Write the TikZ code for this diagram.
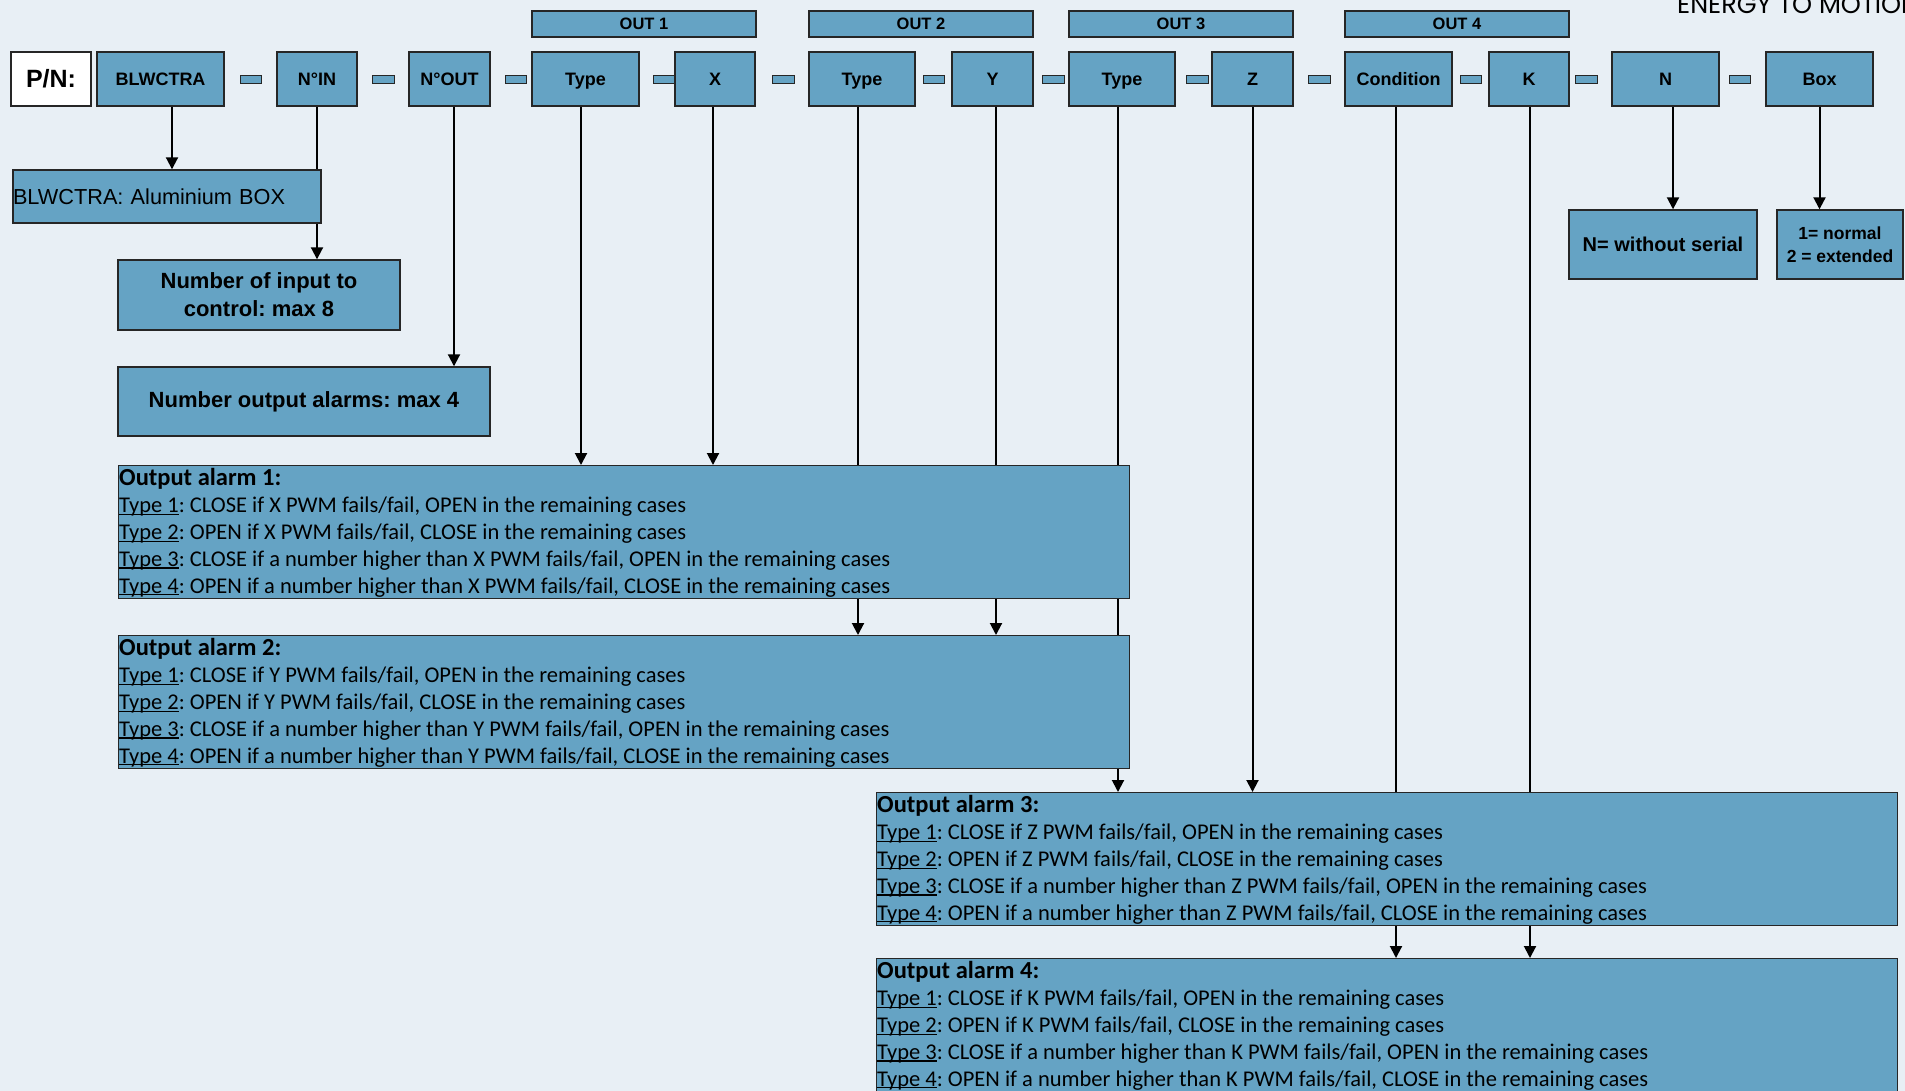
\documentclass[tikz,border=0pt]{standalone}
\usepackage{fontspec}
\setmainfont{Liberation Sans}
\newfontfamily\calfont{Carlito}
\newfontfamily\popfont{Poppins}
\usetikzlibrary{arrows.meta,calc}
\definecolor{bgc}{HTML}{E8EFF5}
\definecolor{boxc}{HTML}{65A3C4}
\definecolor{bordc}{HTML}{262626}
\pgfdeclarelayer{bgl}\pgfdeclarelayer{edges}
\pgfsetlayers{bgl,edges,main}
\newcommand\myul[1]{\setbox0\hbox{#1}\rlap{\rule[-2.4pt]{\wd0}{1.1pt}}\box0}
\newcommand\ty[1]{\myul{Type #1}}
\newcommand\atitle[1]{{\bfseries\fontsize{24.5}{26.9}\selectfont #1}}
\begin{document}
\frenchspacing
\begin{tikzpicture}[x=1pt,y=-1pt,
 blk/.style={draw=bordc, fill=boxc, line width=1.4pt, inner sep=0pt, align=center},
 toplbl/.style={blk, minimum height=54pt, text height=13pt, text depth=0pt, font=\bfseries\fontsize{18}{21}\selectfont},
 outlbl/.style={blk, minimum height=26pt, minimum width=224pt, text height=12pt, text depth=0pt, font=\bfseries\fontsize{16.5}{20}\selectfont},
 dashbox/.style={blk, minimum width=21.5pt, minimum height=8.5pt},
 conn/.style={draw=black, line width=2pt, -{Triangle[length=12pt,width=12pt]}},
 alarm/.style={blk, anchor=north west, minimum height=133pt},
 alarmtxt/.style={anchor=base west, inner sep=0pt, align=left, font=\calfont\fontsize{22.5}{26.9}\selectfont}
]
\begin{pgfonlayer}{bgl}
\fill[bgc] (0,0) rectangle (1905,1091);
\end{pgfonlayer}
\useasboundingbox (0,0) rectangle (1905,1091);

\node[anchor=base west, inner sep=0pt, font=\popfont\fontsize{25.5}{30}\selectfont] (brand) at (1677,13.3) {ENERGY TO MOTION};

% top row
\node[toplbl, fill=white, minimum width=80pt, text height=18pt, font=\bfseries\fontsize{25}{30}\selectfont] (pn) at (51,79) {P/N:};
\node[toplbl, minimum width=127pt] (blw) at (160.5,79) {BLWCTRA};
\node[toplbl, minimum width=80pt] (nin) at (317,79) {N°IN};
\node[toplbl, minimum width=81pt] (nout) at (449.5,79) {N°OUT};
\node[toplbl, minimum width=107pt] (t1) at (585.5,79) {Type};
\node[toplbl, minimum width=80pt] (nx) at (715,79) {X};
\node[toplbl, minimum width=106pt] (t2) at (862,79) {Type};
\node[toplbl, minimum width=81pt] (ny) at (992.5,79) {Y};
\node[toplbl, minimum width=106pt] (t3) at (1122,79) {Type};
\node[toplbl, minimum width=81pt] (nz) at (1252.5,79) {Z};
\node[toplbl, minimum width=107pt] (cond) at (1398.5,79) {Condition};
\node[toplbl, minimum width=80pt] (nk) at (1529,79) {K};
\node[toplbl, minimum width=107pt] (nn) at (1665.5,79) {N};
\node[toplbl, minimum width=107pt] (bx) at (1819.5,79) {Box};

\node[dashbox] (d1) at (251,79.5) {};
\node[dashbox] (d2) at (383.5,79.5) {};
\node[dashbox] (d3) at (516,79.5) {};
\node[dashbox] (d4) at (664,79.5) {};
\node[dashbox] (d5) at (783.5,79.5) {};
\node[dashbox] (d6) at (934,79.5) {};
\node[dashbox] (d7) at (1053.5,79.5) {};
\node[dashbox] (d8) at (1197.5,79.5) {};
\node[dashbox] (d9) at (1319.5,79.5) {};
\node[dashbox] (d10) at (1471,79.5) {};
\node[dashbox] (d11) at (1586.5,79.5) {};
\node[dashbox] (d12) at (1740,79.5) {};

\node[outlbl] (o1) at (644,24) {OUT 1};
\node[outlbl] (o2) at (921,24) {OUT 2};
\node[outlbl] (o3) at (1181,24) {OUT 3};
\node[outlbl] (o4) at (1457,24) {OUT 4};

% descriptions
\node[blk, minimum width=308pt, minimum height=53pt, text width=308pt, align=left, font=\fontsize{21.7}{26}\selectfont] (alu) at (167,196.5) {BLWCTRA: Aluminium BOX};
\node[blk, minimum width=282pt, minimum height=70pt, font=\bfseries\fontsize{22}{28}\selectfont] (nip) at (259,295) {Number of input to\\control: max 8};
\node[blk, minimum width=372pt, minimum height=69pt, font=\bfseries\fontsize{22}{28}\selectfont] (noa) at (304,401.5) {Number output alarms: max 4};
\node[blk, minimum width=188pt, minimum height=69pt, font=\bfseries\fontsize{20}{24}\selectfont] (nser) at (1663,244.5) {N= without serial};
\node[blk, minimum width=126pt, minimum height=69pt, font=\bfseries\fontsize{17.5}{22.7}\selectfont] (norm) at (1840,244.5) {1= normal\\2 = extended};

% alarms
\node[alarm, minimum width=1011pt] (a1) at (118,465) {};
\node[alarmtxt] (a1t) at ([xshift=1pt,yshift=-128pt]a1.north west) {\atitle{Output alarm 1:}\\
\ty{1}: CLOSE if X PWM fails/fail, OPEN in the remaining cases\\
\ty{2}: OPEN if X PWM fails/fail, CLOSE in the remaining cases\\
\ty{3}: CLOSE if a number higher than X PWM fails/fail, OPEN in the remaining cases\\
\ty{4}: OPEN if a number higher than X PWM fails/fail, CLOSE in the remaining cases};

\node[alarm, minimum width=1011pt] (a2) at (118,635) {};
\node[alarmtxt] (a2t) at ([xshift=1pt,yshift=-128pt]a2.north west) {\atitle{Output alarm 2:}\\
\ty{1}: CLOSE if Y PWM fails/fail, OPEN in the remaining cases\\
\ty{2}: OPEN if Y PWM fails/fail, CLOSE in the remaining cases\\
\ty{3}: CLOSE if a number higher than Y PWM fails/fail, OPEN in the remaining cases\\
\ty{4}: OPEN if a number higher than Y PWM fails/fail, CLOSE in the remaining cases};

\node[alarm, minimum width=1021pt] (a3) at (876,792) {};
\node[alarmtxt] (a3t) at ([xshift=1pt,yshift=-128pt]a3.north west) {\atitle{Output alarm 3:}\\
\ty{1}: CLOSE if Z PWM fails/fail, OPEN in the remaining cases\\
\ty{2}: OPEN if Z PWM fails/fail, CLOSE in the remaining cases\\
\ty{3}: CLOSE if a number higher than Z PWM fails/fail, OPEN in the remaining cases\\
\ty{4}: OPEN if a number higher than Z PWM fails/fail, CLOSE in the remaining cases};

\node[alarm, minimum width=1021pt] (a4) at (876,958) {};
\node[alarmtxt] (a4t) at ([xshift=1pt,yshift=-128pt]a4.north west) {\atitle{Output alarm 4:}\\
\ty{1}: CLOSE if K PWM fails/fail, OPEN in the remaining cases\\
\ty{2}: OPEN if K PWM fails/fail, CLOSE in the remaining cases\\
\ty{3}: CLOSE if a number higher than K PWM fails/fail, OPEN in the remaining cases\\
\ty{4}: OPEN if a number higher than K PWM fails/fail, CLOSE in the remaining cases};

% connectors
\begin{pgfonlayer}{edges}
\draw[conn] ([xshift=11.5pt]blw.south) -- ([xshift=11.5pt]blw.south |- alu.north);
\draw[conn] (nin.south) -- (nin.south |- nip.north);
\draw[conn] ([xshift=4.5pt]nout.south) -- ([xshift=4.5pt]nout.south |- noa.north);
\draw[conn] ([xshift=-4.5pt]t1.south) -- ([xshift=-4.5pt]t1.south |- a1.north);
\draw[conn] ([xshift=-2pt]nx.south) -- ([xshift=-2pt]nx.south |- a1.north);
\draw[conn] ([xshift=-4pt]t2.south) -- ([xshift=-4pt]t2.south |- a2.north);
\draw[conn] ([xshift=3.5pt]ny.south) -- ([xshift=3.5pt]ny.south |- a2.north);
\draw[conn] ([xshift=-4pt]t3.south) -- ([xshift=-4pt]t3.south |- a3.north);
\draw[conn] (nz.south) -- (nz.south |- a3.north);
\draw[conn] ([xshift=-2.5pt]cond.south) -- ([xshift=-2.5pt]cond.south |- a4.north);
\draw[conn] ([xshift=1pt]nk.south) -- ([xshift=1pt]nk.south |- a4.north);
\draw[conn] ([xshift=7.5pt]nn.south) -- ([xshift=7.5pt]nn.south |- nser.north);
\draw[conn] (bx.south) -- (bx.south |- norm.north);
\end{pgfonlayer}
\end{tikzpicture}
\end{document}
